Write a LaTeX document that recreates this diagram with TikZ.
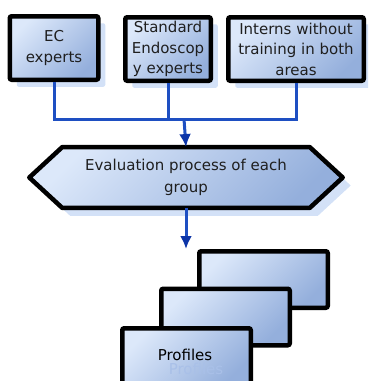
\documentclass[tikz,border=0pt]{standalone}
\usepackage{fontspec}
\setmainfont{DejaVu Sans}
\usetikzlibrary{arrows.meta,calc,shadows}
\definecolor{gtop}{HTML}{DCE8FA}
\definecolor{gbot}{HTML}{94AFDC}
\definecolor{shad}{HTML}{D3E1F7}
\definecolor{wire}{HTML}{1E4FC2}
\definecolor{tipc}{HTML}{0D35A8}
\definecolor{reflc}{HTML}{A9C0E8}
\pgfdeclarelayer{bg}
\pgfsetlayers{bg,main}
\tikzset{
  grad/.style={top color=gtop, bottom color=gbot, shading angle=45},
  txt/.style={text=black!88, font=\fontsize{15}{20.5}\selectfont},
  box/.style={draw=black, line width=4.5pt, rounded corners=2pt, grad,
    align=center, inner sep=0pt, txt},
  topbox/.style={box, minimum height=63.5pt,
    drop shadow={shadow xshift=7pt, shadow yshift=-7pt, fill=shad, opacity=1}},
  profbox/.style={box, minimum width=128.5pt, minimum height=56.5pt},
  wire/.style={draw=wire, line width=3pt},
  flow/.style={wire, -{Latex[length=13pt,width=12pt,color=tipc]}},
}
\begin{document}
\begin{tikzpicture}[x=1pt,y=-1pt]
\useasboundingbox (0,0) rectangle (368,381);
\clip (0,0) rectangle (368,381);
% top boxes
\node[topbox, minimum width=88.5pt] (b1) at (54,48) {EC\\experts};
\node[topbox, minimum width=85.5pt] (b2) at (168,49) {Standard\\Endoscop\\y experts};
\node[topbox, minimum width=135.5pt] (b3) at (296,49) {Interns without\\training in both\\areas};
% bus
\coordinate (bus) at (184,119);
\draw[wire] (b1.south) |- (bus) -| (b3.south);
\draw[wire] (b2.south) -- (b2.south |- bus);
% hexagon
\node[align=center, minimum width=247pt, minimum height=60.5pt, inner sep=0pt,
  txt, font=\fontsize{15}{22}\selectfont] (hex) at (186,177.5)
  {Evaluation process of each\\group};
\begin{pgfonlayer}{bg}
  \fill[shad] ($(hex.north west)+(8,8)$) -- ($(hex.north east)+(8,8)$)
    -- ($(hex.east)+(41,8)$) -- ($(hex.south east)+(8,8)$)
    -- ($(hex.south west)+(8,8)$) -- ($(hex.west)+(-25,8)$) -- cycle;
  \path[draw=black, line width=4.5pt, line join=round, grad]
    (hex.north west) -- (hex.north east) -- ($(hex.east)+(33,0)$)
    -- (hex.south east) -- (hex.south west) -- ($(hex.west)+(-33,0)$) -- cycle;
\end{pgfonlayer}
\draw[flow] (bus) -- (hex.north);
% profiles
\coordinate (pin) at (186,249);
\draw[flow] (hex.south) -- (pin);
\node[profbox] (p3) at (263.5,279.5) {};
\node[profbox] (p2) at (225.5,317) {};
\node[profbox] (p1) at (186.5,356.5) {};
\node[txt, text=reflc] (refl) at (196,369) {Profiles};
\node[txt, text=black] (pl) at (185,355) {Profiles};
\end{tikzpicture}
\end{document}
